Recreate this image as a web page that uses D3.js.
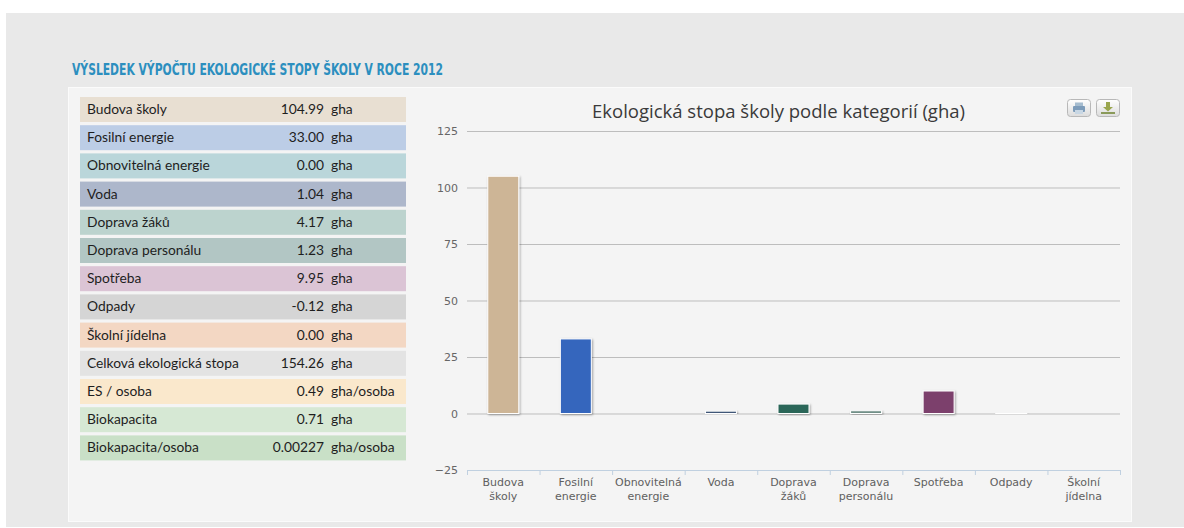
<!DOCTYPE html>
<html>
<head>
<meta charset="utf-8">
<script src="https://cdnjs.cloudflare.com/ajax/libs/d3/7.8.5/d3.min.js"></script>
<style>
	body { margin: 0; background: #fff; }
	svg { display: block; }
</style>
</head>
<body>
<div id="chart"></div>
<script>

// Table rows (left block)
var row_labels = ['Budova školy', 'Fosilní energie', 'Obnovitelná energie', 'Voda', 'Doprava žáků', 'Doprava personálu', 'Spotřeba', 'Odpady', 'Školní jídelna', 'Celková ekologická stopa', 'ES / osoba', 'Biokapacita', 'Biokapacita/osoba'];
var row_values = ['104.99', '33.00', '0.00', '1.04', '4.17', '1.23', '9.95', '-0.12', '0.00', '154.26', '0.49', '0.71', '0.00227'];
var row_units = ['gha', 'gha', 'gha', 'gha', 'gha', 'gha', 'gha', 'gha', 'gha', 'gha', 'gha/osoba', 'gha', 'gha/osoba'];
var row_colors = ['#e8dfd2', '#bccde6', '#bad6da', '#adb7cb', '#bcd3ce', '#b2c6c4', '#dbc4d5', '#d5d5d5', '#f3d7c3', '#e3e3e3', '#fae8cc', '#d6e8d4', '#c9e0c7'];

// Chart data
var categories = ['Budova školy', 'Fosilní energie', 'Obnovitelná energie', 'Voda', 'Doprava žáků', 'Doprava personálu', 'Spotřeba', 'Odpady', 'Školní jídelna'];
var values = [104.99, 33.00, 0.00, 1.04, 4.17, 1.23, 9.95, -0.12, 0.00];
var bar_colors = ['#cdb596', '#3466bd', '#3d8f8f', '#3f5777', '#2b6658', '#708f87', '#7c3f6c', '#cfcfcf', '#d9a27a'];
var y_ticks = [-25, 0, 25, 50, 75, 100, 125];

var width = 1184, height = 528;

var svg = d3.select("#chart").append("svg")
	.attr("width", width)
	.attr("height", height);

var defs = svg.append("defs");
var shadow = defs.append("filter").attr("id", "bar-shadow")
	.attr("x", "-20%").attr("y", "-20%").attr("width", "140%").attr("height", "140%");
shadow.append("feDropShadow")
	.attr("dx", 1).attr("dy", 1).attr("stdDeviation", 0.8)
	.attr("flood-color", "#000").attr("flood-opacity", 0.35);

var btnGrad = defs.append("linearGradient").attr("id", "btn-grad")
	.attr("x1", 0).attr("y1", 0).attr("x2", 0).attr("y2", 1);
btnGrad.append("stop").attr("offset", "0%").attr("stop-color", "#ffffff");
btnGrad.append("stop").attr("offset", "100%").attr("stop-color", "#dcdcdc");

// Page background + panel
svg.append("rect")
	.attr("x", 6).attr("y", 13)
	.attr("width", width - 6).attr("height", 514)
	.attr("fill", "#e9e9e9");

svg.append("rect")
	.attr("x", 68.5).attr("y", 87.5)
	.attr("width", 1063).attr("height", 434)
	.attr("fill", "#f4f4f4")
	.attr("stroke", "#fbfbfb");

// Heading
svg.append("text")
	.attr("x", 72)
	.attr("y", 74.5)
	.attr("textLength", 371)
	.attr("lengthAdjust", "spacingAndGlyphs")
	.style("font-family", "'Liberation Sans Narrow', 'DejaVu Sans Condensed', sans-serif")
	.style("font-weight", "bold")
	.style("font-size", "16px")
	.style("fill", "#2c8fbf")
	.text("VÝSLEDEK VÝPOČTU EKOLOGICKÉ STOPY ŠKOLY V ROCE 2012");

//
// Table on the left
//
var rowScale = d3.scaleBand()
	.domain(row_labels)
	.range([97, 97 + 13 * 28.2 - 3.2])
	.paddingInner(3.2 / 28.2);

var rows = svg.append("g").attr("class", "table-rows")
	.selectAll("g")
	.data(row_labels)
	.enter()
	.append("g")
	.attr("transform", function(d) { return "translate(0," + rowScale(d) + ")"; });

rows.append("rect")
	.attr("x", 80)
	.attr("width", 326)
	.attr("height", rowScale.bandwidth())
	.attr("fill", function(d, i) { return row_colors[i]; });

var rowText = function(sel) {
	sel.attr("y", rowScale.bandwidth() / 2 + 4.5)
		.style("font-family", "Lato, 'Open Sans', sans-serif")
		.style("font-size", "13.8px")
		.style("fill", "#1e1e1e");
};

rows.append("text")
	.attr("x", 87)
	.call(rowText)
	.text(function(d) { return d; });

rows.append("text")
	.attr("x", 324)
	.attr("text-anchor", "end")
	.call(rowText)
	.text(function(d, i) { return row_values[i]; });

rows.append("text")
	.attr("x", 331)
	.call(rowText)
	.text(function(d, i) { return row_units[i]; });

//
// Bar chart on the right
//
var plotLeft = 467, plotRight = 1120;

var xScale = d3.scaleBand()
	.domain(categories)
	.range([plotLeft, plotRight])
	.paddingInner(0.573)
	.paddingOuter(0.2865);

var yScale = d3.scaleLinear()
	.domain([-25, 125])
	.range([470, 131]);

// Chart title
svg.append("text")
	.attr("x", 778.5)
	.attr("y", 118)
	.attr("text-anchor", "middle")
	.attr("textLength", 373)
	.attr("lengthAdjust", "spacingAndGlyphs")
	.style("font-family", "'Open Sans', sans-serif")
	.style("font-size", "18px")
	.style("fill", "#3a3a3a")
	.text("Ekologická stopa školy podle kategorií (gha)");

// Grid lines + y labels
var yAxis = d3.axisLeft(yScale)
	.tickValues(y_ticks)
	.tickSize(-(plotRight - plotLeft))
	.tickPadding(9);

var yG = svg.append("g")
	.attr("class", "y-axis")
	.attr("transform", "translate(" + plotLeft + ",0)")
	.call(yAxis);
yG.select(".domain").remove();
yG.selectAll(".tick line")
	.attr("stroke-width", 1)
	.attr("stroke", function(d) { return d == -25 ? "#c0d0e0" : "#bdbdbd"; });
yG.selectAll(".tick text")
	.style("font-family", "'DejaVu Sans', sans-serif")
	.style("font-size", "11px")
	.style("fill", "#666");

// X axis ticks at category boundaries
var xBound = d3.scaleLinear().domain([0, categories.length]).range([plotLeft, plotRight]);
var xAxis = d3.axisBottom(xBound)
	.tickValues(d3.range(categories.length + 1))
	.tickFormat("")
	.tickSize(5);
var xG = svg.append("g")
	.attr("class", "x-axis")
	.attr("transform", "translate(0," + yScale(-25) + ")")
	.call(xAxis);
xG.select(".domain").attr("stroke", "#c0d0e0");
xG.selectAll(".tick line").attr("stroke", "#c0d0e0");

// X labels (wrapped on the first space)
var xLabels = svg.append("g").attr("class", "x-labels")
	.selectAll("text")
	.data(categories)
	.enter()
	.append("text")
	.attr("text-anchor", "middle")
	.style("font-family", "'DejaVu Sans', sans-serif")
	.style("font-size", "11px")
	.style("fill", "#606060");

xLabels.each(function(d) {
	var words = d.split(" ");
	var cx = xScale(d) + xScale.bandwidth() / 2;
	var t = d3.select(this);
	words.forEach(function(w, i) {
		t.append("tspan")
			.attr("x", cx)
			.attr("y", 486 + i * 14)
			.text(w);
	});
});

// Bars
svg.append("g").attr("class", "bars")
	.selectAll("rect")
	.data(values)
	.enter()
	.append("rect")
	.attr("x", function(d, i) { return xScale(categories[i]); })
	.attr("y", function(d) { return yScale(Math.max(0, d)); })
	.attr("width", xScale.bandwidth())
	.attr("height", function(d) { return Math.abs(yScale(d) - yScale(0)); })
	.attr("fill", function(d, i) { return bar_colors[i]; })
	.attr("stroke", "#ffffff")
	.attr("stroke-width", 1)
	.attr("filter", "url(#bar-shadow)");

// Export buttons (print / download)
var buttons = svg.append("g").attr("class", "buttons");
[1067, 1096].forEach(function(bx, i) {
	var b = buttons.append("g").attr("transform", "translate(" + bx + ",99)");
	b.append("rect")
		.attr("x", 0.5).attr("y", 0.5)
		.attr("width", 23).attr("height", 17)
		.attr("rx", 3)
		.attr("fill", "url(#btn-grad)")
		.attr("stroke", "#b8b8b8");
	if (i == 0) {
		b.append("rect").attr("x", 8).attr("y", 3.5).attr("width", 8).attr("height", 4).attr("fill", "#a5bccf");
		b.append("rect").attr("x", 6).attr("y", 7).attr("width", 12).attr("height", 6).attr("rx", 1).attr("fill", "#7d9cba");
		b.append("rect").attr("x", 8).attr("y", 11).attr("width", 8).attr("height", 4).attr("fill", "#c8d7e4");
	}
	else {
		b.append("path").attr("d", "M10,3 L14,3 L14,8 L17,8 L12,12.5 L7,8 L10,8 Z").attr("fill", "#9aa64e");
		b.append("rect").attr("x", 5).attr("y", 13).attr("width", 14).attr("height", 2).attr("fill", "#8a9a5a");
	}
});

</script>
</body>
</html>
